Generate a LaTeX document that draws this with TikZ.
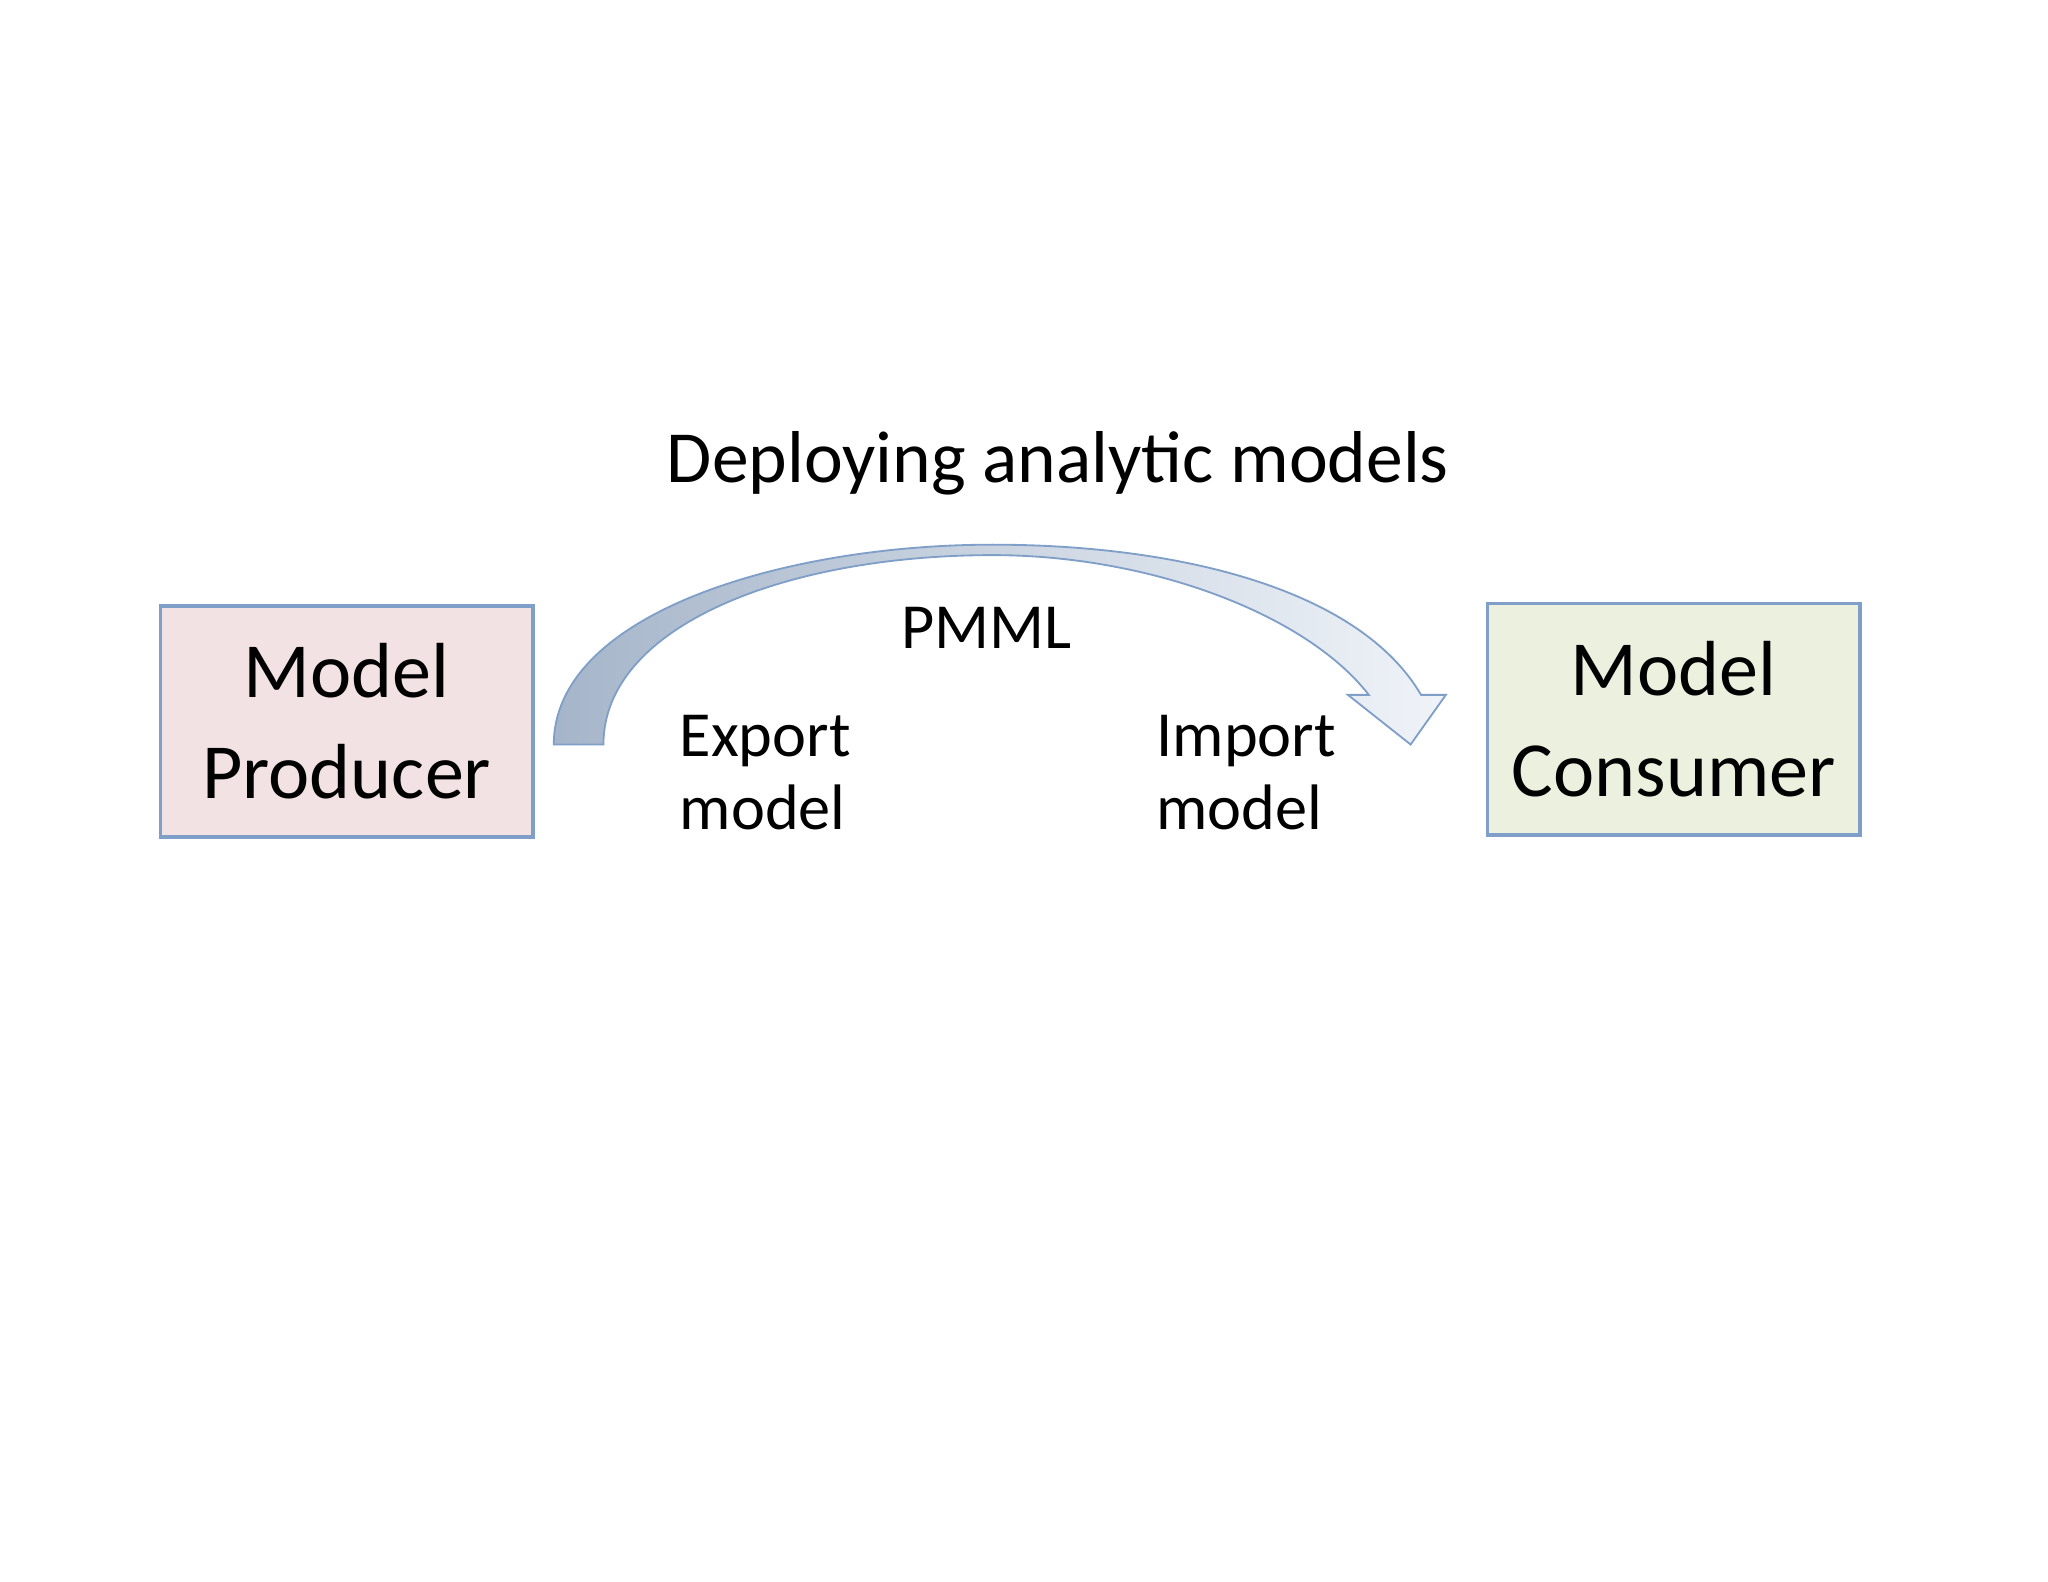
\documentclass[tikz,border=0pt]{standalone}
\usepackage{fontspec}
\setmainfont{Carlito}
\usetikzlibrary{positioning}
\definecolor{edgeblue}{HTML}{7F9FC8}
\definecolor{producerfill}{HTML}{F2E2E3}
\definecolor{consumerfill}{HTML}{EBF1DE}
\tikzset{party/.style = {draw=edgeblue, thick, minimum width=2.85cm, minimum height=1.77cm, align=center, font=\fontsize{17}{22}\selectfont}}
\tikzset{step label/.style = {align=left, font=\fontsize{14}{16}\selectfont}}

\begin{document}
\begin{tikzpicture}[x=0.01cm,y=-0.01cm]
      \useasboundingbox (0,0) rectangle (1568,1211);
      \node[party, fill=producerfill] (producer) at (265.5,552.5) {Model\\Producer};
      \node[party, fill=consumerfill] (consumer) at (1281.5,550.5) {Model\\Consumer};

      \node[font=\fontsize{16}{20}\selectfont] (title) at (810,355) {Deploying analytic models};
      \node[font=\fontsize{14}{16}\selectfont] (pmml) at (755,481) {PMML};
      \node[step label, anchor=north west] (export) at (508,535) {Export\\model};
      \node[step label, anchor=north west] (import) at (873,535) {Import\\model};

      \draw[edgeblue, left color=edgeblue!70!gray!70, right color=edgeblue!12!white]
        (424,570) .. controls (424,470) and (600,417) .. (760,417)
        .. controls (900,417) and (1040,450) .. (1088,532)
        -- (1107,532) -- (1080,570) -- (1032,532) -- (1048,532)
        .. controls (1000,470) and (880,425) .. (760,425)
        .. controls (600,425) and (462,480) .. (462,570) -- cycle;
    \end{tikzpicture}
\end{document}
